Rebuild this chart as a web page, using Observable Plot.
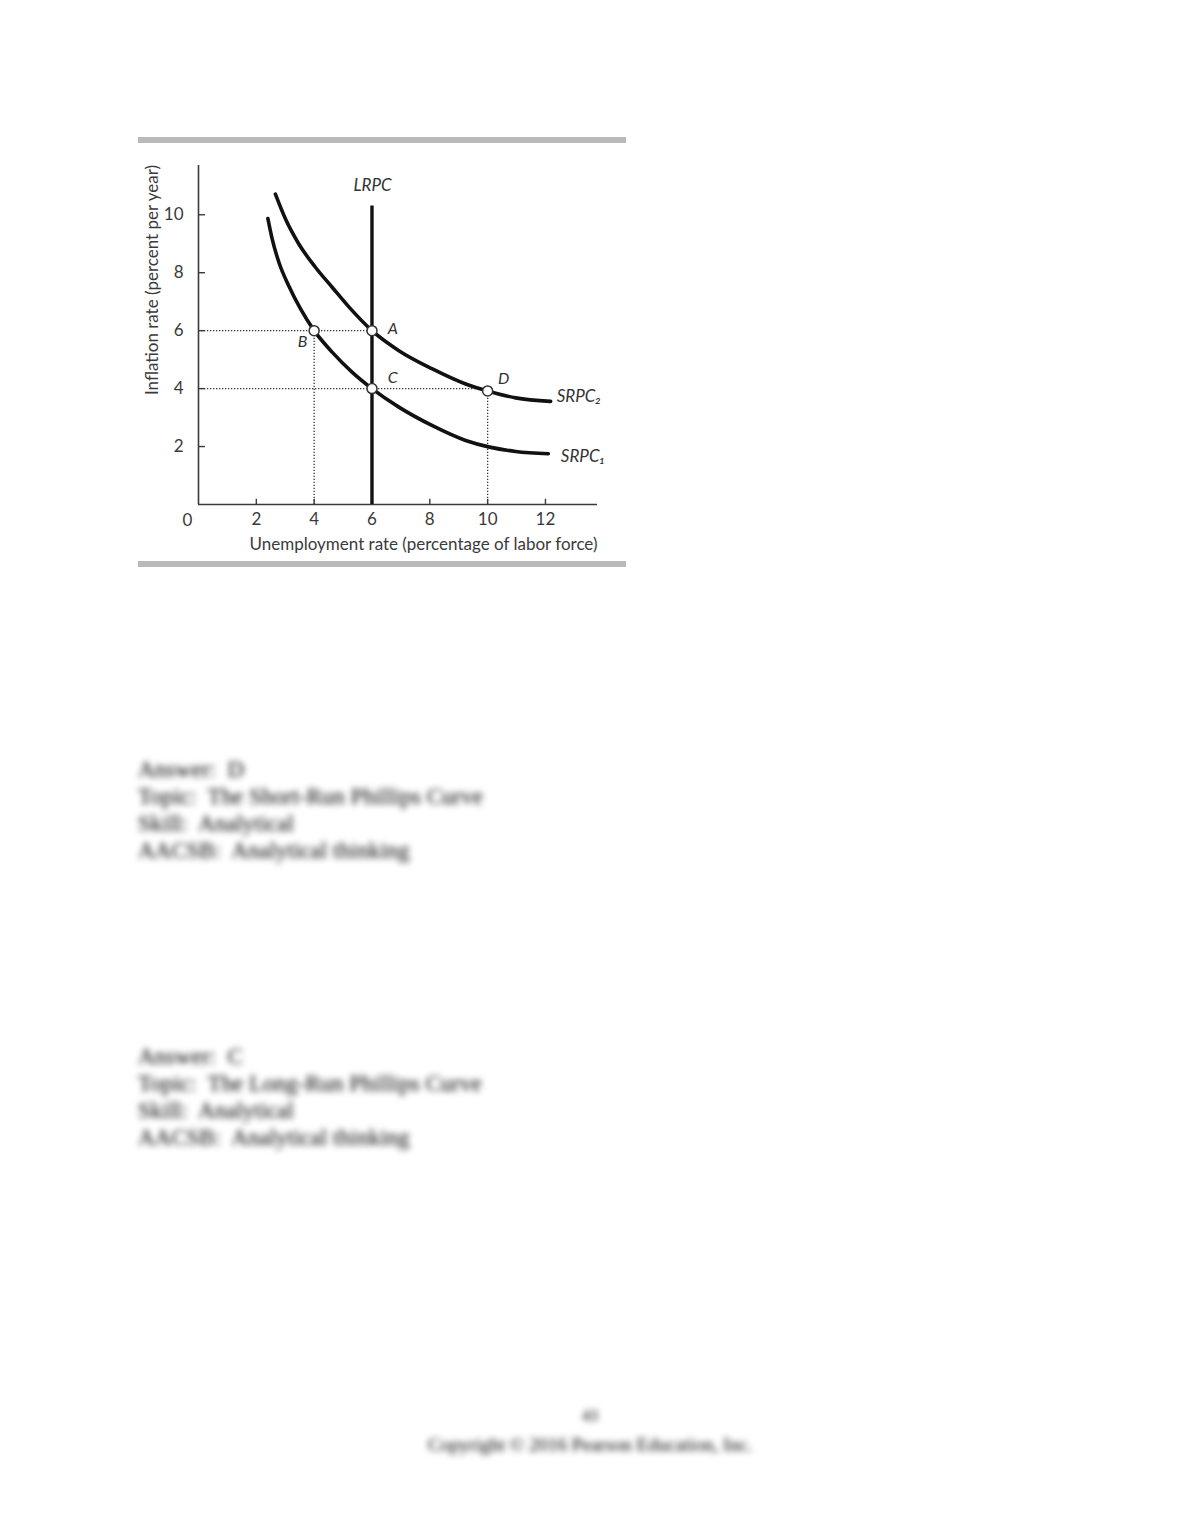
<!DOCTYPE html>
<html>
<head>
<meta charset="utf-8">
<script src="https://cdn.jsdelivr.net/npm/d3@7"></script>
<script src="https://cdn.jsdelivr.net/npm/@observablehq/plot@0.6"></script>
<style>
  html, body { margin: 0; padding: 0; background: #fff; }
  body { width: 1180px; height: 1527px; position: relative; overflow: hidden; }
  .bar { position: absolute; left: 138px; width: 488px; height: 6px; background: #b9b9b9; }
  #chart { position: absolute; left: 138px; top: 144px; }
  .blur { position: absolute; font-family: "Liberation Serif", "Times New Roman", serif; color: #000; filter: blur(3px); white-space: pre; }
  .block { left: 138px; font-size: 23px; line-height: 27px; }
  .foot { left: 0; width: 1180px; text-align: center; font-size: 16px; }
</style>
</head>
<body>
<div class="bar" style="top:137px"></div>
<div id="chart"></div>
<div class="bar" style="top:561px"></div>

<div class="blur block" style="top:756px">Answer:  D
Topic:  The Short-Run Phillips Curve
Skill:  Analytical
AACSB:  Analytical thinking</div>

<div class="blur block" style="top:1043px">Answer:  C
Topic:  The Long-Run Phillips Curve
Skill:  Analytical
AACSB:  Analytical thinking</div>

<div class="blur foot" style="top:1407px">43</div>
<div class="blur foot" style="top:1434px; font-size:19px">Copyright © 2016 Pearson Education, Inc.</div>

<script>
// ---- data ----
const srpc1X = [2.40, 2.55, 2.78, 3.12, 3.53, 4.0, 4.63, 5.32, 6.0, 6.93, 8.09, 9.24, 10.07, 10.97, 12.1];
const srpc1Y = [9.87, 9.16, 8.36, 7.55, 6.75, 6.0, 5.25, 4.56, 4.0, 3.36, 2.72, 2.21, 1.98, 1.83, 1.75];
const srpc2X = [2.66, 3.01, 3.47, 4.05, 4.63, 5.2, 6.0, 6.93, 8.09, 9.24, 10.0, 10.97, 12.18];
const srpc2Y = [10.71, 9.85, 8.99, 8.18, 7.49, 6.82, 6.0, 5.31, 4.68, 4.16, 3.92, 3.68, 3.56];
const lrpcX = 6;
const lrpcTop = 10.3;
const pointNames = ["A", "B", "C", "D"];
const pointX = [6, 4, 6, 10];
const pointY = [6, 6, 4, 3.92];
const xTicks = [2, 4, 6, 8, 10, 12];
const yTicks = [2, 4, 6, 8, 10];
const xLabel = "Unemployment rate (percentage of labor force)";
const yLabel = "Inflation rate (percent per year)";

const srpc1 = srpc1X.map((x, i) => ({x, y: srpc1Y[i]}));
const srpc2 = srpc2X.map((x, i) => ({x, y: srpc2Y[i]}));
const points = pointNames.map((name, i) => ({name, x: pointX[i], y: pointY[i]}));
const byName = Object.fromEntries(points.map(p => [p.name, p]));

// dotted guide lines from the axes to the points
const hGuides = [{x1: 0, x2: byName.A.x, y: byName.A.y}, {x1: 0, x2: byName.D.x, y: byName.C.y}];
const vGuides = [byName.B, byName.D].map(p => ({x: p.x, y1: 0, y2: p.y}));

const pointLabels = [
  {t: "A", x: 6.72, y: 6.07},
  {t: "B", x: 3.6, y: 5.6},
  {t: "C", x: 6.72, y: 4.38},
  {t: "D", x: 10.55, y: 4.34}
];
const curveLabels = [
  {t: "SRPC\u2082", x: 12.39, y: 3.72},
  {t: "SRPC\u2081", x: 12.53, y: 1.66}
];
const lrpcLabel = [{t: "LRPC", x: 6.02, y: 11.0}];

const ink = "#111";
const axisInk = "#3a3a3a";
const font = "Lato, 'Open Sans', sans-serif";

const chart = Plot.plot({
  width: 488,
  height: 416,
  marginLeft: 60,
  marginRight: 29,
  marginTop: 21,
  marginBottom: 56,
  style: {fontFamily: font, fontSize: "17px", color: axisInk, background: "transparent"},
  x: {domain: [0, 13.8]},
  y: {domain: [0, 11.7]},
  marks: [
    // dotted guides
    Plot.ruleY(hGuides, {y: "y", x1: "x1", x2: "x2", stroke: "#333", strokeWidth: 1.3, strokeDasharray: "1.3,1.7"}),
    Plot.ruleX(vGuides, {x: "x", y1: "y1", y2: "y2", stroke: "#333", strokeWidth: 1.3, strokeDasharray: "1.3,1.7"}),
    // axis lines
    Plot.ruleX([0], {y1: 0, y2: 11.7, stroke: axisInk, strokeWidth: 1.6}),
    Plot.ruleY([0], {x1: 0, x2: 13.8, stroke: axisInk, strokeWidth: 1.6}),
    // inward ticks
    Plot.ruleY(yTicks, {y: d => d, x1: 0, x2: 0.24, stroke: axisInk, strokeWidth: 1.4}),
    Plot.ruleX(xTicks, {x: d => d, y1: 0, y2: 0.18, stroke: axisInk, strokeWidth: 1.4}),
    Plot.axisX(xTicks, {tickSize: 0, tickPadding: 8, label: null, fontSize: 17}),
    Plot.axisY(yTicks, {tickSize: 0, tickPadding: 15, label: null, fontSize: 17}),
    Plot.text(["0"], {x: 0, y: 0, dx: -11, dy: 16, fontSize: 17, fill: axisInk}),
    Plot.text([xLabel], {frameAnchor: "bottom-right", textAnchor: "end", dy: 45, fontSize: 17, letterSpacing: "-0.4px", fill: axisInk}),
    Plot.text([yLabel], {frameAnchor: "left", textAnchor: "middle", rotate: -90, dx: -46, dy: -55, fontSize: 17, fill: axisInk}),
    // curves
    Plot.ruleX([lrpcX], {y1: 0, y2: lrpcTop, stroke: ink, strokeWidth: 3.4}),
    Plot.line(srpc1, {x: "x", y: "y", curve: "monotone-x", stroke: ink, strokeWidth: 3.6}),
    Plot.line(srpc2, {x: "x", y: "y", curve: "monotone-x", stroke: ink, strokeWidth: 3.6}),
    // points
    Plot.dot(points, {x: "x", y: "y", r: 5, fill: "white", stroke: "#333", strokeWidth: 1.5}),
    Plot.text(pointLabels, {x: "x", y: "y", text: "t", fontStyle: "italic", fontSize: 16, fill: "#333"}),
    Plot.text(curveLabels, {x: "x", y: "y", text: "t", fontStyle: "italic", fontSize: 17, fill: "#333", letterSpacing: "1.5px", textAnchor: "start"}),
    Plot.text(lrpcLabel, {x: "x", y: "y", text: "t", fontStyle: "italic", fontSize: 17, fill: "#333", letterSpacing: "2px", textAnchor: "middle"})
  ]
});
document.getElementById("chart").appendChild(chart);
</script>
</body>
</html>
